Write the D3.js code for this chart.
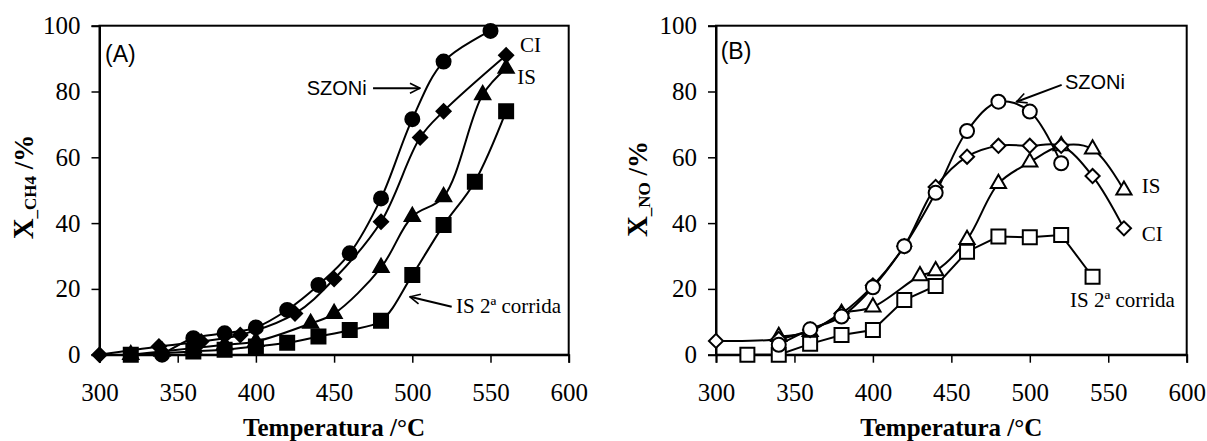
<!DOCTYPE html>
<html>
<head>
<meta charset="utf-8">
<script src="https://cdn.jsdelivr.net/npm/d3@7"></script>
<style>
  body { margin: 0; background: #fff; }
  svg { display: block; }
</style>
</head>
<body>
<div id="chart"></div>
<script>
// axis ticks
const tempTicks = [300, 350, 400, 450, 500, 550, 600];
const convTicks = [0, 20, 40, 60, 80, 100];

// Panel A: X_CH4 (%) vs temperature (filled markers)
const aSzoniT = [340, 360, 380, 400, 420, 440, 460, 480, 500, 520, 550];
const aSzoniX = [0, 5, 6.5, 8.3, 13.6, 21.2, 30.8, 47.5, 71.6, 89.1, 98.4];
const aCiT = [300, 338, 365, 390, 425, 450, 480, 505, 520, 560];
const aCiX = [0, 2.5, 4, 6, 12.5, 23, 40.4, 66, 74, 91];
const aIsT = [320, 340, 360, 380, 400, 435, 450, 480, 500, 520, 545, 560];
const aIsX = [0, 1, 2, 3, 4, 9.5, 12.5, 26.5, 42, 48, 79, 87];
const aIs2T = [320, 360, 380, 400, 420, 440, 460, 480, 500, 520, 540, 560];
const aIs2X = [0, 1, 1.5, 2.5, 3.6, 5.5, 7.5, 10.3, 24.2, 39.4, 52.6, 74];

// Panel B: X_NO (%) vs temperature (open markers)
const bSzoniT = [340, 360, 380, 400, 420, 440, 460, 480, 500, 520];
const bSzoniX = [3, 7.7, 11.6, 20.5, 33, 49.2, 68, 76.9, 73.9, 58.2];
const bCiT = [300, 340, 360, 380, 400, 420, 440, 460, 480, 500, 520, 540, 560];
const bCiX = [4.2, 4.8, 7.5, 12.5, 21, 33, 51, 60.2, 63.5, 63.5, 63.5, 54.3, 38.4];
const bIsT = [340, 360, 380, 400, 430, 440, 460, 480, 500, 520, 540, 560];
const bIsX = [5.5, 7, 12.5, 14.5, 24, 25.5, 35, 52, 58.5, 63.5, 62.5, 50];
const bIs2T = [320, 340, 360, 380, 400, 420, 440, 460, 480, 500, 520, 540];
const bIs2X = [0, 0, 3.3, 6, 7.5, 16.6, 20.9, 31.3, 35.9, 35.7, 36.4, 23.7];

const width = 1207, height = 441;
const serif = "'Liberation Serif', 'Times New Roman', serif";
const sans = "'Liberation Sans', Arial, sans-serif";

const svg = d3.select("#chart").append("svg")
    .attr("width", width)
    .attr("height", height);

// open arrowhead
svg.append("defs").append("marker")
    .attr("id", "arrow")
    .attr("viewBox", "0 0 12 12")
    .attr("refX", 11).attr("refY", 6)
    .attr("markerWidth", 12).attr("markerHeight", 12)
    .attr("markerUnits", "userSpaceOnUse")
    .attr("orient", "auto")
    .append("path")
    .attr("d", "M1,1 L11,6 L1,11")
    .attr("fill", "none")
    .attr("stroke", "#000")
    .attr("stroke-width", 1.6);

function zip(ts, xs) {
    return ts.map((t, i) => ({ t: t, v: xs[i] }));
}

function drawPanel(p) {
    const x = d3.scaleLinear().domain([300, 600]).range([p.left, p.right]);
    const y = d3.scaleLinear().domain([0, 100]).range([354.7, 25.7]);
    const g = svg.append("g");

    // frame
    g.append("rect")
        .attr("x", x(300)).attr("y", y(100))
        .attr("width", x(600) - x(300)).attr("height", y(0) - y(100))
        .attr("fill", "none").attr("stroke", "#000").attr("stroke-width", 2);

    const xAxis = g.append("g")
        .attr("transform", `translate(0,${y(0)})`)
        .call(d3.axisBottom(x).tickValues(tempTicks).tickSize(8).tickPadding(21));
    const yAxis = g.append("g")
        .attr("transform", `translate(${x(300)},0)`)
        .call(d3.axisLeft(y).tickValues(convTicks).tickSize(8).tickPadding(11));
    [xAxis, yAxis].forEach(a => {
        a.attr("font-family", null).attr("font-size", null);
        a.select(".domain").attr("stroke-width", 2);
        a.selectAll(".tick line").attr("stroke-width", 1.5);
        a.selectAll("text")
            .style("font-family", serif)
            .style("font-size", "25px")
            .attr("fill", "#000");
    });

    // axis titles
    g.append("text")
        .attr("x", (x(300) + x(600)) / 2).attr("y", 436)
        .attr("text-anchor", "middle")
        .style("font-family", serif)
        .attr("font-weight", "bold").attr("font-size", 25)
        .text("Temperatura /°C");

    const yt = g.append("text")
        .attr("transform", `translate(${p.titleX},${p.titleY}) rotate(-90)`)
        .attr("text-anchor", "middle")
        .style("font-family", serif)
        .attr("font-weight", "bold").attr("font-size", 27);
    yt.append("tspan").attr("font-size", 29).text("X");
    yt.append("tspan").attr("font-size", 17).attr("dy", 3).text(p.sub);
    yt.append("tspan").attr("dy", -3).text(" /%");

    // panel label
    g.append("text")
        .attr("x", x(p.label.t)).attr("y", y(p.label.v))
        .style("font-family", sans)
        .attr("font-size", 23)
        .text(p.label.text);

    const smooth = d3.line()
        .x(d => x(d.t)).y(d => y(d.v))
        .curve(d3.curveCatmullRom.alpha(0.5));
    const straight = d3.line()
        .x(d => x(d.t)).y(d => y(d.v));

    p.series.forEach(s => {
        const data = zip(s.t, s.v);
        g.append("path")
            .datum(data)
            .attr("d", s.straight ? straight : smooth)
            .attr("fill", "none")
            .attr("stroke", "#000")
            .attr("stroke-width", 2);
    });

    p.series.forEach(s => {
        const data = zip(s.t, s.v);
        let sym, size, rot = 0;
        if (s.shape === "circle") { sym = d3.symbolCircle; size = Math.PI * 7 * 7; }
        if (s.shape === "square") { sym = d3.symbolSquare; size = 14 * 14; }
        if (s.shape === "diamond") { sym = d3.symbolSquare; size = 10 * 10; rot = 45; }
        if (s.shape === "triangle") { sym = d3.symbolTriangle; size = 100; }
        g.selectAll(null)
            .data(data)
            .enter()
            .append("path")
            .attr("d", d3.symbol().type(sym).size(size))
            .attr("transform", d => `translate(${x(d.t)},${y(d.v)}) rotate(${rot})`)
            .attr("fill", p.filled ? "#000" : "#fff")
            .attr("stroke", "#000")
            .attr("stroke-width", 2);
    });

    // annotations
    p.notes.forEach(n => {
        g.append("text")
            .attr("x", x(n.t)).attr("y", y(n.v))
            .style("font-family", n.sans ? sans : serif)
            .attr("font-size", n.sans ? 20 : 21)
            .text(n.text);
    });
    p.arrows.forEach(a => {
        g.append("line")
            .attr("x1", x(a[0])).attr("y1", y(a[1]))
            .attr("x2", x(a[2])).attr("y2", y(a[3]))
            .attr("stroke", "#000").attr("stroke-width", 2)
            .attr("marker-end", "url(#arrow)");
    });
}

drawPanel({
    left: 99.5, right: 568.7,
    titleX: 33, titleY: 187, sub: "_CH4",
    filled: true,
    label: { t: 303.5, v: 89, text: "(A)" },
    series: [
        { t: aSzoniT, v: aSzoniX, shape: "circle" },
        { t: aCiT, v: aCiX, shape: "diamond" },
        { t: aIsT, v: aIsX, shape: "triangle" },
        { t: aIs2T, v: aIs2X, shape: "square" }
    ],
    notes: [
        { t: 432.5, v: 79, text: "SZONi", sans: true },
        { t: 568.9, v: 92, text: "CI" },
        { t: 567.1, v: 82.3, text: "IS" },
        { t: 528, v: 12.6, text: "IS 2ª corrida" }
    ],
    arrows: [
        [474.9, 81, 504.9, 81],
        [525.2, 14.6, 498.5, 17.6]
    ]
});

drawPanel({
    left: 716, right: 1186.7,
    titleX: 647, titleY: 189, sub: "_NO",
    filled: false,
    label: { t: 303, v: 90, text: "(B)" },
    series: [
        { t: bIs2T, v: bIs2X, shape: "square", straight: true },
        { t: bIsT, v: bIsX, shape: "triangle" },
        { t: bCiT, v: bCiX, shape: "diamond" },
        { t: bSzoniT, v: bSzoniX, shape: "circle" }
    ],
    notes: [
        { t: 522.4, v: 80.7, text: "SZONi", sans: true },
        { t: 571.3, v: 49, text: "IS" },
        { t: 571.3, v: 34.7, text: "CI" },
        { t: 525.6, v: 14.6, text: "IS 2ª corrida" }
    ],
    arrows: [
        [520.3, 82, 491.6, 76.9]
    ]
});
</script>
</body>
</html>
